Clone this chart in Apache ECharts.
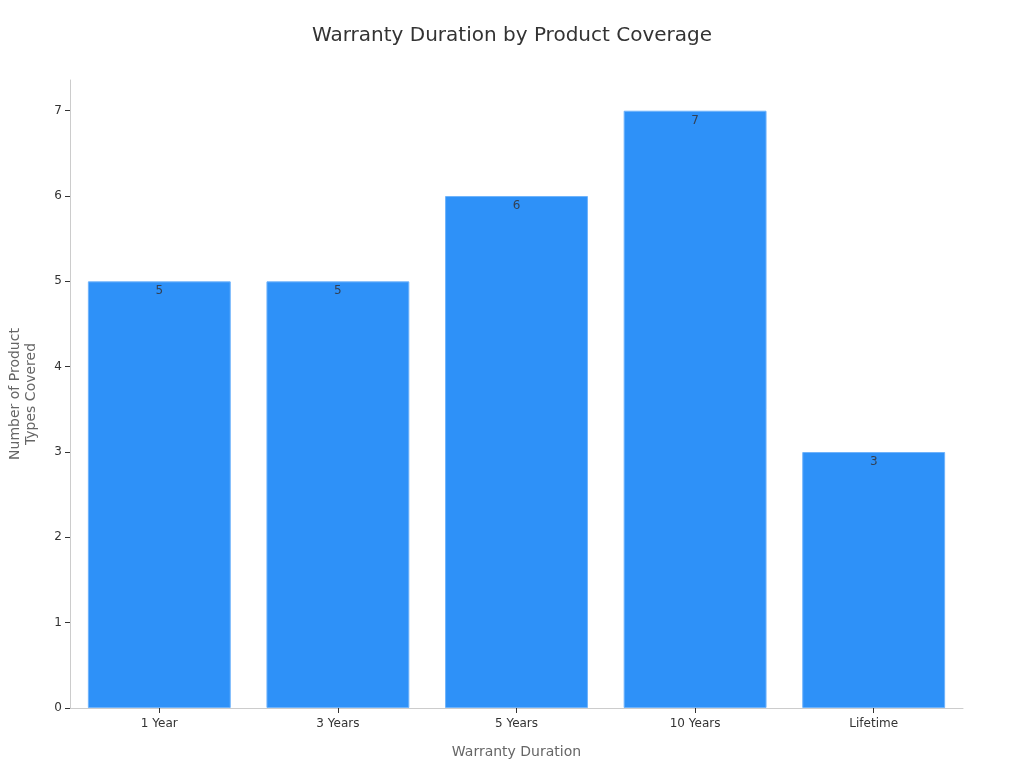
<!DOCTYPE html>
<html>
<head>
<meta charset="utf-8">
<script src="https://cdn.jsdelivr.net/npm/echarts@6/dist/echarts.min.js"></script>
<style>html,body{margin:0;padding:0;background:#fff;}#c{width:1024px;height:768px;}</style>
</head>
<body>
<div id="c"></div>
<script>
const categories = ['1 Year', '3 Years', '5 Years', '10 Years', 'Lifetime'];
const productTypes = [5, 5, 6, 7, 3];
const yTicks = [0, 1, 2, 3, 4, 5, 6, 7];

const chart = echarts.init(document.getElementById('c'));
const font = 'DejaVu Sans';
chart.setOption({
  animation: false,
  backgroundColor: '#ffffff',
  title: {
    text: 'Warranty Duration by Product Coverage',
    left: 'center',
    top: 21,
    textStyle: { fontFamily: font, fontSize: 20, fontWeight: 'normal', color: '#333333' }
  },
  grid: { left: 70, right: 61, top: 80, bottom: 60, containLabel: false, outerBoundsMode: 'none' },
  xAxis: {
    type: 'category',
    data: categories,
    name: 'Warranty Duration',
    nameLocation: 'middle',
    nameGap: 37,
    nameTextStyle: { fontFamily: font, fontSize: 14, color: '#666666' },
    axisLine: { lineStyle: { color: '#cccccc' } },
    axisTick: { show: true, alignWithLabel: true, length: 5, lineStyle: { color: '#333333' } },
    axisLabel: { fontFamily: font, fontSize: 12, color: '#333333', margin: 10 }
  },
  yAxis: {
    type: 'value',
    min: 0,
    max: 7.36,
    interval: 1,
    name: 'Number of Product\nTypes Covered',
    nameLocation: 'middle',
    nameGap: 31,
    nameTextStyle: { fontFamily: font, fontSize: 14, color: '#666666', lineHeight: 16 },
    axisLine: { show: true, lineStyle: { color: '#cccccc' } },
    axisTick: { show: true, length: 5, customValues: yTicks, lineStyle: { color: '#333333' } },
    axisLabel: { fontFamily: font, fontSize: 12, color: '#333333', margin: 8, customValues: yTicks },
    splitLine: { show: false }
  },
  series: [{
    type: 'bar',
    data: productTypes,
    barWidth: '80%',
    itemStyle: { color: '#2e91f8', borderColor: '#6fb3fb', borderWidth: 1 },
    label: {
      show: true,
      position: 'insideTop',
      distance: 4,
      fontFamily: font,
      fontSize: 12,
      color: '#334155'
    }
  }]
});
</script>
</body>
</html>
